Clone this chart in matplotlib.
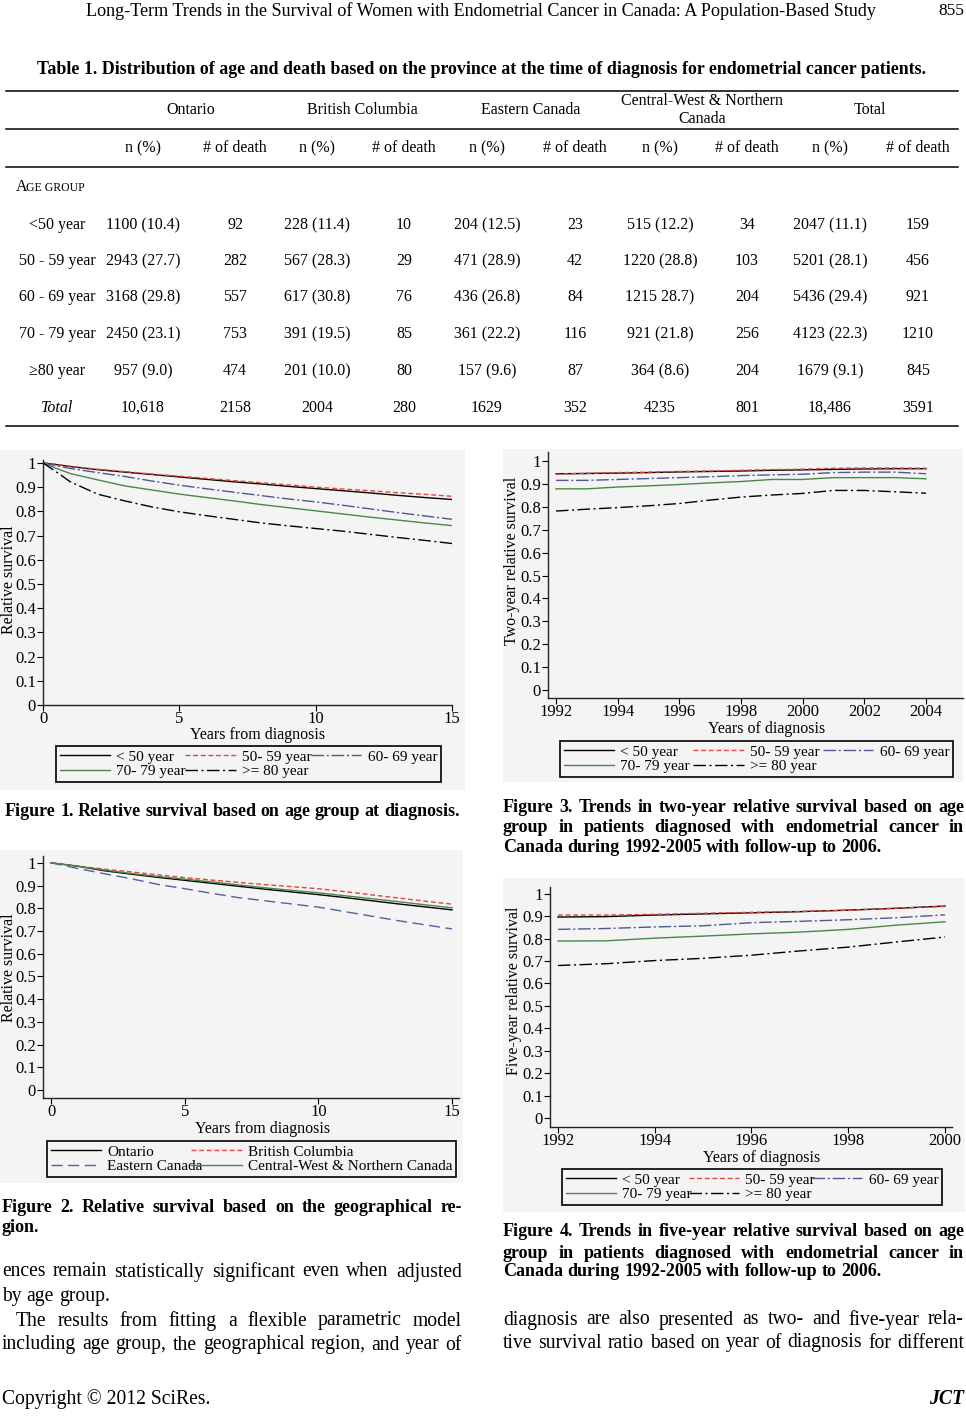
import matplotlib
matplotlib.use('Agg')
import matplotlib.pyplot as plt
from matplotlib.patches import Rectangle
from matplotlib.lines import Line2D

plt.rcParams['font.family'] = ['Liberation Serif', 'DejaVu Serif']

# ---- table data ----
row_labels = ['<50 year', '50 - 59 year', '60 - 69 year', '70 - 79 year', '\u226580 year', 'Total']
ontario_n = ['1100 (10.4)', '2943 (27.7)', '3168 (29.8)', '2450 (23.1)', '957 (9.0)', '10,618']
ontario_d = ['92', '282', '557', '753', '474', '2158']
bc_n = ['228 (11.4)', '567 (28.3)', '617 (30.8)', '391 (19.5)', '201 (10.0)', '2004']
bc_d = ['10', '29', '76', '85', '80', '280']
ec_n = ['204 (12.5)', '471 (28.9)', '436 (26.8)', '361 (22.2)', '157 (9.6)', '1629']
ec_d = ['23', '42', '84', '116', '87', '352']
cw_n = ['515 (12.2)', '1220 (28.8)', '1215 28.7)', '921 (21.8)', '364 (8.6)', '4235']
cw_d = ['34', '103', '204', '256', '204', '801']
tot_n = ['2047 (11.1)', '5201 (28.1)', '5436 (29.4)', '4123 (22.3)', '1679 (9.1)', '18,486']
tot_d = ['159', '456', '921', '1210', '845', '3591']
groups = ['Ontario', 'British Columbia', 'Eastern Canada', 'Central-West & Northern\nCanada', 'Total']

# ---- figure 1: relative survival by age group ----
age_labels = ['< 50 year', '50- 59 year', '60- 69 year', '70- 79 year', '>= 80 year']
f1_years = [0, 0.5, 1, 2, 3, 4, 5, 6, 7, 8, 9, 10, 11, 12, 13, 14, 15]
f1_lt50 = [1.0, 0.993, 0.985, 0.972, 0.962, 0.952, 0.942, 0.932, 0.922, 0.913, 0.903, 0.894, 0.885, 0.876, 0.866, 0.857, 0.849]
f1_50s = [1.0, 0.993, 0.986, 0.974, 0.964, 0.954, 0.945, 0.936, 0.927, 0.918, 0.909, 0.900, 0.892, 0.885, 0.877, 0.870, 0.862]
f1_60s = [1.0, 0.988, 0.977, 0.960, 0.944, 0.925, 0.908, 0.893, 0.879, 0.865, 0.851, 0.839, 0.825, 0.810, 0.795, 0.781, 0.767]
f1_70s = [1.0, 0.977, 0.956, 0.930, 0.905, 0.888, 0.871, 0.857, 0.843, 0.828, 0.815, 0.802, 0.789, 0.776, 0.764, 0.752, 0.741]
f1_80p = [1.0, 0.962, 0.922, 0.871, 0.843, 0.818, 0.798, 0.782, 0.767, 0.752, 0.740, 0.729, 0.718, 0.705, 0.692, 0.680, 0.667]

# ---- figure 2: relative survival by region ----
region_labels = ['Ontario', 'British Columbia', 'Eastern Canada', 'Central-West & Northern Canada']
f2_years = [0, 1, 2, 3, 4, 5, 6, 7, 8, 9, 10, 11, 12, 13, 14, 15]
f2_ont = [1.0, 0.985, 0.965, 0.950, 0.936, 0.923, 0.910, 0.897, 0.884, 0.872, 0.860, 0.847, 0.833, 0.819, 0.806, 0.793]
f2_bc = [1.0, 0.986, 0.972, 0.960, 0.947, 0.935, 0.924, 0.914, 0.904, 0.895, 0.886, 0.873, 0.859, 0.845, 0.831, 0.818]
f2_ec = [1.0, 0.975, 0.952, 0.930, 0.905, 0.886, 0.866, 0.847, 0.833, 0.819, 0.805, 0.785, 0.765, 0.745, 0.727, 0.709]
f2_cw = [1.0, 0.985, 0.968, 0.953, 0.940, 0.928, 0.916, 0.903, 0.890, 0.879, 0.868, 0.855, 0.842, 0.829, 0.815, 0.802]

# ---- figure 3: two-year relative survival by year of diagnosis ----
f3_years = [1992, 1993, 1994, 1995, 1996, 1997, 1998, 1999, 2000, 2001, 2002, 2003, 2004]
f3_lt50 = [0.945, 0.946, 0.948, 0.950, 0.953, 0.955, 0.957, 0.960, 0.962, 0.964, 0.966, 0.967, 0.967]
f3_50s = [0.943, 0.947, 0.950, 0.952, 0.955, 0.957, 0.960, 0.963, 0.965, 0.969, 0.970, 0.970, 0.969]
f3_60s = [0.916, 0.916, 0.920, 0.924, 0.928, 0.932, 0.937, 0.940, 0.943, 0.950, 0.952, 0.952, 0.945]
f3_70s = [0.879, 0.879, 0.887, 0.892, 0.898, 0.905, 0.911, 0.920, 0.920, 0.928, 0.928, 0.928, 0.923]
f3_80p = [0.782, 0.790, 0.797, 0.805, 0.815, 0.830, 0.843, 0.852, 0.859, 0.872, 0.872, 0.866, 0.860]

# ---- figure 4: five-year relative survival by year of diagnosis ----
f4_years = [1992, 1993, 1994, 1995, 1996, 1997, 1998, 1999, 2000]
f4_lt50 = [0.896, 0.898, 0.905, 0.910, 0.915, 0.920, 0.927, 0.935, 0.945]
f4_50s = [0.905, 0.905, 0.908, 0.913, 0.917, 0.921, 0.926, 0.936, 0.943]
f4_60s = [0.841, 0.845, 0.852, 0.857, 0.871, 0.877, 0.884, 0.893, 0.906]
f4_70s = [0.789, 0.790, 0.802, 0.811, 0.821, 0.829, 0.841, 0.860, 0.875]
f4_80p = [0.680, 0.688, 0.702, 0.712, 0.726, 0.745, 0.762, 0.785, 0.807]

age_styles = [('black', '-'), ('#e5453b', (0, (3.5, 2))), ('#4b5897', (0, (9, 2, 1.5, 2))),
              ('#4a874a', '-'), ('black', (0, (9, 2.5, 1.5, 2.5)))]
region_styles = [('black', '-'), ('#e5453b', (0, (3.5, 2))), ('#5560a0', (0, (8, 4))), ('#4a874a', '-')]
PANEL = '#f4f4f4'

W, H = 966, 1416
fig = plt.figure(figsize=(W / 100, H / 100), dpi=100)
renderer = fig.canvas.get_renderer()


def fx(x):
    return x / W


def fy(y):
    return 1 - y / H


def txt(x, y, s, size, **kw):
    kw.setdefault('va', 'center')
    return fig.text(fx(x), fy(y), s, fontsize=size, **kw)


def width_px(t):
    return t.get_window_extent(renderer).width


def size_for(s, width, **kw):
    # font size at which s is exactly `width` pixels wide
    t = txt(0, 0, s, 10, ha='left', **kw)
    size = 10 * width / width_px(t)
    t.remove()
    return size


def fit(s, x0, x1, y, **kw):
    size = size_for(s, x1 - x0, **kw)
    txt(x0, y, s, size, ha='left', **kw)
    return size


def justify(s, x0, x1, y, size, full=True, **kw):
    words = s.split()
    ts = [txt(0, y, w, size, ha='left', **kw) for w in words]
    ws = [width_px(t) for t in ts]
    gap = size * 0.25 * 100 / 72
    if full and len(words) > 1:
        gap = (x1 - x0 - sum(ws)) / (len(words) - 1)
    x = x0
    for t, w in zip(ts, ws):
        t.set_x(fx(x))
        x += w + gap


def hline(y, x0, x1, lw=1.1):
    fig.add_artist(Line2D([fx(x0), fx(x1)], [fy(y), fy(y)], transform=fig.transFigure,
                          color='black', lw=lw))


def panel(x0, y0, x1, y1):
    fig.add_artist(Rectangle((fx(x0), fy(y1)), (x1 - x0) / W, (y1 - y0) / H,
                             transform=fig.transFigure, facecolor=PANEL, edgecolor='none', zorder=0))


def make_axes(left, right, top, bottom, xlim, ylim, xticks):
    ax = fig.add_axes([fx(left), fy(bottom), (right - left) / W, (bottom - top) / H])
    ax.set_facecolor('none')
    ax.set_xlim(xlim)
    ax.set_ylim(ylim)
    for s in ['top', 'right']:
        ax.spines[s].set_visible(False)
    for s in ['left', 'bottom']:
        ax.spines[s].set_linewidth(1.0)
        ax.spines[s].set_color('#222222')
    yt = [i / 10 for i in range(11)]
    ax.set_yticks(yt)
    ax.set_yticklabels(['0'] + ['%.1f' % v for v in yt[1:-1]] + ['1'])
    ax.set_xticks(xticks)
    ax.set_xticklabels([str(v) for v in xticks])
    ax.tick_params(direction='out', length=4, width=0.8, labelsize=12, pad=1)
    ax.tick_params(axis='x', pad=0)
    return ax


def add_legend(ax, handles, ncol, x0, y0, x1, y1):
    leg = ax.legend(handles=handles, ncol=ncol, loc='center',
                    bbox_to_anchor=(fx(x0), fy(y1), (x1 - x0) / W, (y1 - y0) / H),
                    bbox_transform=fig.transFigure, mode='expand', fancybox=False,
                    edgecolor='black', facecolor=PANEL, framealpha=1, fontsize=11,
                    handlelength=3.3, handletextpad=0.4, columnspacing=0.5,
                    labelspacing=0.05, borderpad=0.25, borderaxespad=0)
    leg.get_frame().set_linewidth(1.2)


def age_plot(ax, xs, series):
    hs = []
    for ys, lab, (c, ls) in zip(series, age_labels, age_styles):
        h, = ax.plot(xs, ys, color=c, linestyle=ls, lw=1.0, label=lab)
        hs.append(h)
    return [hs[0], hs[3], hs[1], hs[4], hs[2]]


# ---- page header ----
fit('Long-Term Trends in the Survival of Women with Endometrial Cancer in Canada: A Population-Based Study',
    86, 878, 11)
txt(964, 11, '855', 12.5, ha='right')

# ---- table ----
fit('Table 1. Distribution of age and death based on the province at the time of diagnosis for endometrial cancer patients.',
    37, 929, 69, fontweight='bold')
for y in [91, 129, 167, 426]:
    hline(y, 6, 958)
group_x = [191, 362, 531, 702, 870]
for g, gx in zip(groups, group_x):
    txt(gx, 110, g, 11.5, ha='center', linespacing=1.15)
n_x = [143, 317, 487, 660, 830]
d_x = [235, 404, 575, 747, 918]
for nx, dx in zip(n_x, d_x):
    txt(nx, 148, 'n (%)', 11.5, ha='center')
    txt(dx, 148, '# of death', 11.5, ha='center')
txt(16, 187, 'A', 11.5, ha='left')
txt(26, 188, 'GE GROUP', 8.5, ha='left')
row_y = [225, 261, 297, 334, 371, 408]
cols = [ontario_n, ontario_d, bc_n, bc_d, ec_n, ec_d, cw_n, cw_d, tot_n, tot_d]
col_x = [143, 235, 317, 404, 487, 575, 660, 747, 830, 918]
for i, ry in enumerate(row_y):
    txt(57, ry, row_labels[i], 11.5, ha='center', style='italic' if i == 5 else 'normal')
    for col, cx in zip(cols, col_x):
        txt(cx, ry, col[i], 11.5, ha='center')

cap = 0.98 * size_for('Figure 4. Trends in five-year relative survival based on age', 461, fontweight='bold')
body = 0.97 * size_for('ences remain statistically significant even when adjusted', 460)

# ---- figure 1 ----
panel(0, 450, 465, 790)
ax1 = make_axes(43, 452, 460, 705, (0, 15), (0, 1.012), [0, 5, 10, 15])
h1 = age_plot(ax1, f1_years, [f1_lt50, f1_50s, f1_60s, f1_70s, f1_80p])
add_legend(ax1, h1, 3, 56, 744, 441, 784)
txt(9, 580, 'Relative survival', 11.5, ha='center', rotation=90)
txt(258, 735, 'Years from diagnosis', 11.5, ha='center')
justify('Figure 1. Relative survival based on age group at diagnosis.', 5, 458, 812, cap,
        full=False, fontweight='bold')

# ---- figure 3 ----
panel(503, 449, 963, 782)
ax3 = make_axes(548, 963, 452, 698, (1991.74, 2005.2), (-0.035, 1.04), list(range(1992, 2005, 2)))
h3 = age_plot(ax3, f3_years, [f3_lt50, f3_50s, f3_60s, f3_70s, f3_80p])
add_legend(ax3, h3, 3, 560, 738, 953, 780)
txt(512, 561, 'Two-year relative survival', 11.5, ha='center', rotation=90)
txt(767, 729, 'Years of diagnosis', 11.5, ha='center')
justify('Figure 3. Trends in two-year relative survival based on age', 503, 964, 807, cap, fontweight='bold')
justify('group in patients diagnosed with endometrial cancer in', 503, 964, 828, cap, fontweight='bold')
justify('Canada during 1992-2005 with follow-up to 2006.', 503, 964, 848, cap, full=False, fontweight='bold')

# ---- figure 2 ----
panel(0, 850, 463, 1183)
ax2 = make_axes(43, 459, 856, 1098, (-0.3, 15.26), (-0.035, 1.03), [0, 5, 10, 15])
hs = []
for ys, lab, (c, ls) in zip([f2_ont, f2_bc, f2_ec, f2_cw], region_labels, region_styles):
    h, = ax2.plot(f2_years, ys, color=c, linestyle=ls, lw=1.0, label=lab)
    hs.append(h)
add_legend(ax2, [hs[0], hs[2], hs[1], hs[3]], 2, 47, 1138, 456, 1180)
txt(9, 968, 'Relative survival', 11.5, ha='center', rotation=90)
txt(263, 1129, 'Years from diagnosis', 11.5, ha='center')
justify('Figure 2. Relative survival based on the geographical re-', 2, 462, 1207, cap, fontweight='bold')
justify('gion.', 2, 462, 1227, cap, full=False, fontweight='bold')

# ---- figure 4 ----
panel(503, 878, 965, 1212)
ax4 = make_axes(550, 952, 887, 1127, (1991.835, 2000.145), (-0.04, 1.03), list(range(1992, 2001, 2)))
h4 = age_plot(ax4, f4_years, [f4_lt50, f4_50s, f4_60s, f4_70s, f4_80p])
add_legend(ax4, h4, 3, 562, 1168, 942, 1206)
txt(514, 991, 'Five-year relative survival', 11.5, ha='center', rotation=90)
txt(762, 1158, 'Years of diagnosis', 11.5, ha='center')
justify('Figure 4. Trends in five-year relative survival based on age', 503, 964, 1232, cap, fontweight='bold')
justify('group in patients diagnosed with endometrial cancer in', 503, 964, 1253, cap, fontweight='bold')
justify('Canada during 1992-2005 with follow-up to 2006.', 503, 964, 1272, cap, full=False, fontweight='bold')

# ---- body text ----
justify('ences remain statistically significant even when adjusted', 2, 462, 1272, body)
justify('by age group.', 2, 462, 1297, body, full=False)
justify('The results from fitting a flexible parametric model', 16, 462, 1321, body)
justify('including age group, the geographical region, and year of', 2, 462, 1345, body)
justify('diagnosis are also presented as two- and five-year rela-', 503, 964, 1320, body)
justify('tive survival ratio based on year of diagnosis for different', 503, 964, 1343, body)
txt(2, 1399, 'Copyright \u00a9 2012 SciRes.', body, ha='left')
txt(964, 1399, 'JCT', body, ha='right', fontweight='bold', style='italic')

fig.savefig('out.png', dpi=100)
